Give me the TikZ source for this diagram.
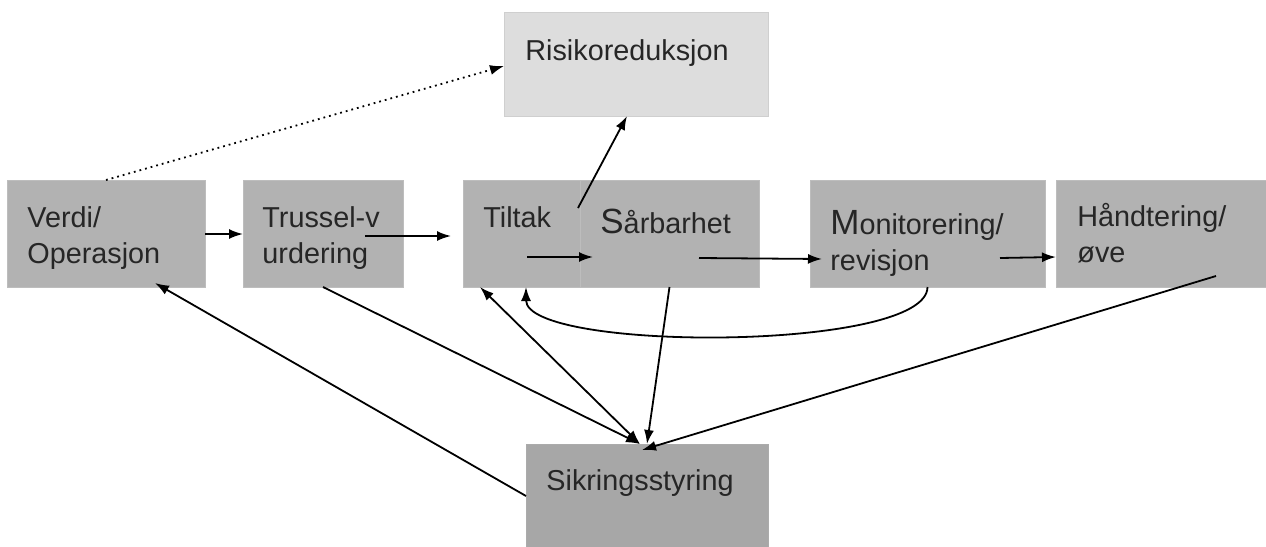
\documentclass[tikz,border=0pt]{standalone}
\usepackage{fontspec}
\setmainfont{Liberation Sans}
\usetikzlibrary{arrows.meta}
\newcommand{\firstbig}{\fontsize{17.5}{17.75}\selectfont}

\begin{document}
\begin{tikzpicture}[
		x=0.5pt, y=-0.5pt,
		box/.style={rectangle, fill=gray!60, draw=gray!52, line width=0.4pt,
			inner sep=0pt, outer sep=0pt, minimum height=53.5pt},
		txt/.style={anchor=base west, inner sep=0pt, align=left,
			font=\fontsize{14.4}{17.75}\selectfont, text=black!85},
		tip/.tip={Latex[length=7pt, width=5pt]},
		link/.style={-tip, line width=0.9pt}
	]
	\useasboundingbox (0,0) rectangle (1266,547);

	% boxes
	\node[box, minimum width=99pt] (verdi) at (106, 233.5) {};
	\node[box, minimum width=80pt] (trussel) at (323, 233.5) {};
	\node[box, minimum width=58.5pt] (tiltak) at (521.5, 233.5) {};
	\node[box, minimum width=89.5pt] (sarbar) at (669.5, 233.5) {};
	\node[box, minimum width=117.5pt] (monitor) at (927.5, 233.5) {};
	\node[box, minimum width=106pt] (handtering) at (1162, 233.5) {};
	\node[box, fill=gray!27, draw=gray!38, minimum width=132pt, minimum height=52pt]
	(risiko) at (636, 64) {};
	\node[box, fill=gray!69, draw=gray!66, minimum width=121pt, minimum height=52pt]
	(sikring) at (647, 496) {};

	% texts (two-line nodes sit on their last line)
	\node[txt] (verdi-t) at ([shift={(20,83)}]verdi.north west) {Verdi/\\Operasjon};
	\node[txt] (trussel-t) at ([shift={(19,83)}]trussel.north west) {Trussel-v\\urdering};
	\node[txt] (tiltak-t) at ([shift={(20,47)}]tiltak.north west) {Tiltak};
	\node[txt] (sarbar-t) at ([shift={(20,53)}]sarbar.north west) {{\firstbig S}årbarhet};
	\node[txt] (monitor-t) at ([shift={(20,90)}]monitor.north west) {{\firstbig M}onitorering/\\revisjon};
	\node[txt] (handtering-t) at ([shift={(21,82)}]handtering.north west) {Håndtering/\\øve};
	\node[txt] (risiko-t) at ([shift={(21,48)}]risiko.north west) {Risikoreduksjon};
	\node[txt] (sikring-t) at ([shift={(20,46)}]sikring.north west) {Sikringsstyring};

	% flow along the row
	\draw[link] ([shift={(0,0.5)}]verdi.east) -- ([shift={(0,0.5)}]trussel.west);
	\draw[link] ([shift={(-38,2.5)}]trussel.east) -- ([shift={(-12,2.5)}]tiltak.west);
	\draw[link] ([shift={(64,-30)}]tiltak.south west) -- ([shift={(13,-30)}]sarbar.south west);
	\draw[link] ([shift={(-60,-29)}]sarbar.south east) -- ([shift={(12,-28)}]monitor.south west);
	\draw[link] ([shift={(-45,-29)}]monitor.south east) -- ([shift={(0,-30)}]handtering.south west);

	% up to risk reduction
	\draw[link] ([shift={(-2,28)}]tiltak.north east) -- ([shift={(-9,0)}]risiko.south);
	\draw[link, dotted] (verdi.north) -- ([shift={(0,2)}]risiko.west);

	% feedback loop
	\draw[link] (monitor.south) .. controls +(0,65) and +(0,65) .. ([shift={(63,0)}]tiltak.south west);

	% to and from Sikringsstyring
	\draw[link] (trussel.south) -- ([shift={(-7,0)}]sikring.north);
	\draw[tip-tip, line width=0.9pt] ([shift={(17,0)}]tiltak.south west) -- ([shift={(-7,0)}]sikring.north);
	\draw[link] (sarbar.south) -- (sikring.north);
	\draw[link] ([shift={(160,-11)}]handtering.south west) -- ([shift={(-5,6)}]sikring.north);
	\draw[link] (sikring.west) -- ([shift={(49,-4)}]verdi.south);
\end{tikzpicture}
\end{document}
